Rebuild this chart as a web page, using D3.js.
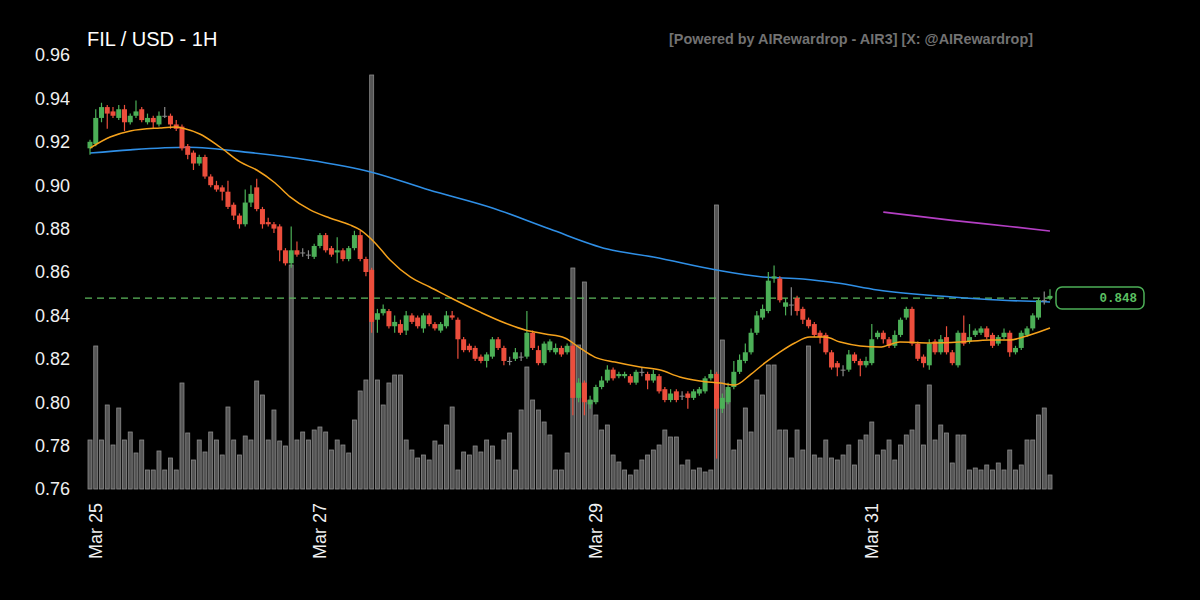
<!DOCTYPE html>
<html><head><meta charset="utf-8">
<script src="https://cdn.jsdelivr.net/npm/d3@7"></script>
<style>body{margin:0;background:#000;}svg{display:block;}</style>
</head><body><svg id="c" width="1200" height="600"></svg>
<script>
// ---- data (hourly candles, FIL/USD) ----
const opens = [.917,.919,.931,.936,.934,.931,.935,.929,.932,.935,.929,.931,.928,.932,.932,.928,.927,.918,.915,.910,
.913,.904,.900,.899,.897,.891,.886,.882,.892,.899,.889,.883,.882,.881,.870,.864,.870,.869,.868,.867,
.872,.877,.871,.869,.870,.866,.871,.877,.866,.861,.838,.841,.842,.835,.836,.833,.840,.839,.834,.840,
.836,.833,.835,.840,.838,.829,.826,.825,.821,.819,.821,.829,.825,.819,.820,.821,.821,.832,.824,.818,
.824,.823,.825,.823,.826,.802,.809,.799,.800,.807,.810,.815,.812,.812,.812,.809,.814,.813,.810,.812,
.806,.801,.805,.803,.804,.802,.804,.805,.811,.813,.797,.800,.807,.814,.819,.823,.832,.839,.842,.857,
.857,.844,.845,.848,.843,.838,.836,.832,.831,.823,.818,.815,.815,.822,.819,.817,.818,.830,.832,.829,
.826,.831,.839,.843,.827,.821,.817,.828,.823,.830,.823,.817,.832,.828,.831,.832,.834,.831,.827,.830,
.832,.823,.825,.831,.834,.839,.847,.848];
const highs = [.921,.935,.938,.937,.936,.937,.937,.933,.939,.936,.933,.932,.934,.936,.933,.930,.928,.919,.916,.914,
.914,.905,.902,.900,.902,.892,.887,.898,.900,.903,.890,.885,.883,.882,.871,.881,.874,.871,.870,.873,
.878,.878,.872,.876,.871,.872,.879,.879,.867,.862,.843,.845,.843,.840,.838,.842,.841,.840,.841,.841,
.837,.837,.842,.842,.839,.830,.827,.826,.822,.823,.830,.830,.826,.821,.825,.823,.842,.833,.826,.828,
.829,.827,.826,.827,.827,.811,.810,.803,.808,.812,.817,.816,.814,.814,.813,.815,.816,.814,.815,.813,
.807,.806,.806,.805,.805,.806,.807,.812,.815,.814,.804,.809,.819,.822,.827,.834,.842,.845,.860,.863,
.858,.848,.853,.849,.844,.839,.837,.833,.832,.824,.819,.817,.824,.823,.820,.821,.836,.833,.833,.830,
.833,.839,.844,.844,.828,.822,.829,.829,.831,.835,.824,.833,.840,.836,.834,.835,.835,.832,.831,.834,
.833,.826,.833,.835,.841,.848,.851,.852];
const lows = [.914,.918,.929,.926,.931,.930,.925,.928,.931,.929,.928,.926,.927,.931,.926,.925,.916,.912,.907,.909,
.903,.899,.897,.893,.889,.884,.880,.881,.890,.888,.880,.881,.878,.865,.863,.862,.867,.867,.866,.866,
.871,.869,.867,.864,.865,.865,.870,.865,.858,.832,.832,.840,.834,.832,.831,.831,.836,.834,.832,.835,
.833,.832,.834,.838,.820,.823,.823,.819,.818,.816,.820,.824,.817,.817,.819,.819,.820,.824,.817,.817,
.823,.822,.821,.822,.794,.800,.794,.797,.799,.806,.809,.810,.811,.811,.808,.808,.812,.806,.809,.804,
.800,.800,.800,.801,.797,.801,.803,.804,.810,.774,.795,.799,.806,.813,.818,.822,.831,.838,.841,.855,
.846,.840,.840,.840,.836,.834,.830,.827,.822,.815,.812,.812,.814,.818,.812,.816,.817,.829,.827,.825,
.825,.830,.838,.826,.819,.816,.815,.822,.822,.822,.817,.816,.826,.827,.830,.831,.829,.825,.826,.829,
.821,.822,.824,.830,.833,.838,.845,.847];
const closes = [.920,.931,.936,.933,.932,.935,.929,.932,.934,.930,.931,.929,.932,.932,.928,.926,.917,.914,.910,.913,
.904,.900,.898,.897,.890,.886,.882,.892,.896,.889,.882,.882,.880,.870,.864,.870,.868,.869,.868,.872,
.877,.870,.868,.870,.866,.871,.877,.866,.860,.837,.841,.843,.835,.837,.832,.840,.837,.835,.840,.836,
.834,.836,.840,.839,.829,.824,.824,.820,.819,.822,.829,.825,.819,.819,.823,.821,.832,.825,.818,.827,
.828,.825,.822,.826,.802,.809,.800,.801,.807,.810,.815,.811,.813,.813,.809,.814,.814,.810,.813,.805,
.801,.804,.801,.803,.802,.805,.806,.811,.813,.797,.802,.807,.814,.8195,.823,.832,.840,.843,.856,.858,
.847,.846,.845,.842,.838,.835,.831,.830,.823,.816,.816,.815,.822,.819,.817,.819,.829,.832,.829,.826,
.831,.838,.843,.827,.820,.818,.827,.823,.829,.823,.818,.832,.827,.830,.833,.834,.830,.826,.830,.832,
.823,.825,.832,.834,.840,.847,.847,.849];
const volumes = [49,143,49,84,44,81,49,57,36,49,19,19,38,19,31,19,106,56,29,49,
37,57,49,34,82,49,34,53,49,108,94,49,79,48,43,224,49,57,49,59,
62,57,39,49,44,36,69,98,109,414,109,84,106,114,114,49,39,31,34,29,
48,44,64,82,19,37,34,43,37,49,43,29,49,56,19,79,122,89,79,67,
54,19,19,36,221,144,207,89,74,59,64,34,27,19,14,19,29,34,39,44,
59,52,52,24,29,19,21,17,19,284,149,99,39,49,81,57,109,94,124,124,
59,59,31,59,39,143,34,31,49,31,29,34,44,24,49,54,67,34,39,49,
29,44,54,59,84,44,104,49,64,56,26,54,54,19,21,19,24,19,26,19,
39,19,24,49,49,74,81,14];
const xTickLabels = ["Mar 25","Mar 27","Mar 29","Mar 31"];
const xTickIndex = [1,40,88,136];
const yTicks = [0.76,0.78,0.80,0.82,0.84,0.86,0.88,0.90,0.92,0.94,0.96];
const maSlowIdx = [0,7,17,28,38,49,59,70,80,90,98,109,117,124,130,137,150,158,167];
const maSlowVals = [0.9148,0.9163,0.9175,0.915,0.9116,0.906,0.8978,0.8895,0.8798,0.8706,0.8669,0.8609,0.8577,0.8568,0.8549,0.8517,0.8485,0.8471,0.8462];
const maFastIdx = [0,3.5,7,12.2,14.8,16.5,19.1,22.6,26.1,29,32.2,34.8,38.3,41.7,45.2,47,49.6,52.2,55.7,59.1,63.5,67.8,72.2,75.7,79.2,82.6,85.2,87.8,91.3,95.7,99.2,102.6,106.1,109.6,112.2,114.8,117.4,120,122.6,125.2,127.9,130.5,134,137.4,140.9,146.1,151.3,156.6,160,163.5,167];
const maFastVals = [0.9171,0.9222,0.925,0.9264,0.9268,0.926,0.9236,0.9176,0.9107,0.907,0.901,0.8946,0.8886,0.8849,0.8817,0.8794,0.8734,0.8655,0.8577,0.8531,0.8471,0.8416,0.8365,0.8333,0.8314,0.8296,0.825,0.8208,0.8185,0.8162,0.8148,0.8116,0.8098,0.8088,0.8079,0.8125,0.8181,0.8231,0.8273,0.830,0.830,0.8277,0.8259,0.8254,0.8277,0.8273,0.8277,0.8287,0.8287,0.831,0.8342];
const maLongIdx = [138,150,160,167];
const maLongVals = [0.8876,0.8838,0.8810,0.8789];
const lastPrice = 0.848;
const title = "FIL / USD - 1H";
const credit = "[Powered by AIRewardrop - AIR3] [X: @AIRewardrop]";

// ---- drawing ----
const svg = d3.select("#c");
svg.append("rect").attr("width",1200).attr("height",600).attr("fill","#000");
const n = closes.length;
const x = d3.scaleLinear().domain([0, n-1]).range([90, 1050]);
const y = d3.scaleLinear().domain([0.76, 0.96]).range([489, 55]);
const yv = d3.scaleLinear().domain([0, d3.max(volumes)]).range([489, 75]);
const candles = d3.range(n).map(i => ({i, o:opens[i], h:highs[i], l:lows[i], c:closes[i], v:volumes[i]}));
const GREEN = "#4caf57", RED = "#ec4e3c", GRAY = "#8a8a8a";
const col = d => d.c > d.o ? GREEN : (d.c < d.o ? RED : GRAY);

// volume
svg.append("g").selectAll("rect").data(candles).join("rect")
  .attr("x", d => x(d.i) - 2).attr("width", 4)
  .attr("y", d => yv(d.v)).attr("height", d => 489 - yv(d.v))
  .attr("fill", "#555").attr("stroke", "#8c8c8c").attr("stroke-width", 0.8);

// y axis labels
svg.append("g").selectAll("text").data(yTicks).join("text")
  .attr("x", 70).attr("y", d => y(d)).attr("dy", "0.35em")
  .attr("text-anchor", "end").attr("fill", "#f0f0f0")
  .style("font", "18px 'Liberation Sans', Arial, sans-serif")
  .text(d => d.toFixed(2));

// x axis labels
svg.append("g").selectAll("text").data(xTickIndex).join("text")
  .attr("transform", d => `translate(${x(d)},503) rotate(-90)`)
  .attr("dy", "0.35em").attr("text-anchor", "end").attr("fill", "#f0f0f0")
  .style("font", "18px 'Liberation Sans', Arial, sans-serif")
  .text((d,k) => xTickLabels[k]);

// dashed last price line
svg.append("line").attr("x1", 85).attr("x2", 1052).attr("y1", y(lastPrice)).attr("y2", y(lastPrice))
  .attr("stroke", "#5cb85c").attr("stroke-width", 1.2).attr("stroke-dasharray", "7,5");

// moving averages
const line = (idx, vals) => d3.line().x((d,k) => x(idx[k])).y(d => y(d)).curve(d3.curveMonotoneX)(vals);
svg.append("path").attr("d", line(maSlowIdx, maSlowVals)).attr("fill","none").attr("stroke","#2f8fe6").attr("stroke-width",1.6);
svg.append("path").attr("d", line(maLongIdx, maLongVals)).attr("fill","none").attr("stroke","#b43fc4").attr("stroke-width",1.6);

// candles
const cg = svg.append("g");
cg.selectAll("line").data(candles).join("line")
  .attr("x1", d => x(d.i)).attr("x2", d => x(d.i))
  .attr("y1", d => y(d.h)).attr("y2", d => y(d.l))
  .attr("stroke", col).attr("stroke-width", 1.2);
cg.selectAll("rect").data(candles).join("rect")
  .attr("x", d => x(d.i) - 2.5).attr("width", 5)
  .attr("y", d => y(Math.max(d.o, d.c)))
  .attr("height", d => Math.max(1, Math.abs(y(d.o) - y(d.c))))
  .attr("fill", col);

svg.append("path").attr("d", line(maFastIdx, maFastVals)).attr("fill","none").attr("stroke","#f5a21c").attr("stroke-width",1.5);

// price label
svg.append("rect").attr("x", 1056).attr("y", y(lastPrice) - 11).attr("width", 88).attr("height", 22).attr("rx", 6)
  .attr("fill", "#000").attr("stroke", "#4caf57").attr("stroke-width", 1.5);
svg.append("text").attr("x", 1137).attr("y", y(lastPrice)).attr("dy", "0.35em").attr("text-anchor", "end")
  .attr("fill", "#5cc062").style("font", "bold 12.5px 'Liberation Mono', 'DejaVu Sans Mono', monospace")
  .text(lastPrice.toFixed(3));

// titles
svg.append("text").attr("x", 87).attr("y", 46).attr("fill", "#fff")
  .style("font", "20px 'Liberation Sans', Arial, sans-serif").text(title);
svg.append("text").attr("x", 1033).attr("y", 44).attr("text-anchor", "end").attr("fill", "#727272")
  .style("font", "bold 14.4px 'Liberation Sans', Arial, sans-serif").text(credit);
</script></body></html>
